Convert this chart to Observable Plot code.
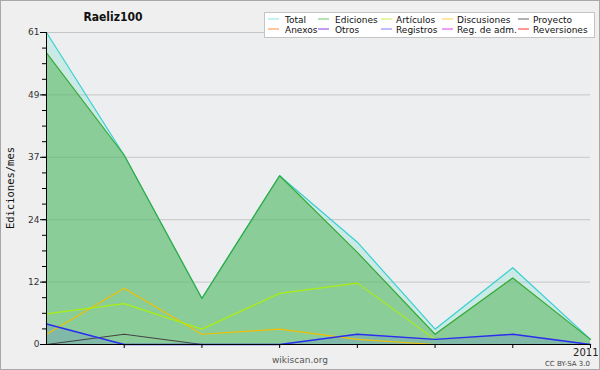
<!DOCTYPE html>
<html>
<head>
<meta charset="utf-8">
<script src="https://cdn.jsdelivr.net/npm/d3@7"></script>
<script src="https://cdn.jsdelivr.net/npm/@observablehq/plot@0.6"></script>
<style>
  html, body { margin: 0; padding: 0; background: #efefef; }
  svg { display: block; }
</style>
</head>
<body>
<div id="chart"></div>
<script>
// ---- data ----
const months = ["2010-06", "2010-07", "2010-08", "2010-09", "2010-10", "2010-11", "2010-12", "2011-01"];
const total = [61, 37, 9, 33, 20, 3, 15, 1];
const ediciones = [57, 37, 9, 33, 18, 2, 13, 1];
const articulos = [6, 8, 3, 10, 12, 1, null, null];
const discusiones = [2, 11, 2, 3, 1, 0, null, null];
const registros = [4, 0, 0, 0, 2, 1, 2, 0];
const proyecto = [0, 2, 0, 0, 0, 0, 0, 0];

const yTicks = [0, 12.2, 24.4, 36.6, 48.8, 61];
const yTickLabels = ["0", "12", "24", "37", "49", "61"];
const xTickLabels = ["", "", "", "", "", "", "", "2011"];

const legendLabels = [
  ["Total", "Ediciones", "Artículos", "Discusiones", "Proyecto"],
  ["Anexos", "Otros", "Registros", "Reg. de adm.", "Reversiones"]
];
const legendColors = [
  ["#8fe3e3", "#6cc46c", "#c6f04a", "#ffd23c", "#666666"],
  ["#ff8a3c", "#8a3ce8", "#7a7aff", "#e23cf0", "#ff3434"]
];

const title = "Raeliz100";
const yLabel = "Ediciones/mes";
const source = "wikiscan.org";
const license = "CC BY-SA 3.0";

// ---- table for the library ----
const rows = months.map((m, i) => ({
  i, month: m,
  total: total[i], ediciones: ediciones[i], articulos: articulos[i],
  discusiones: discusiones[i], registros: registros[i], proyecto: proyecto[i]
}));
const minorTicks = d3.range(0, 61.001, 61 / 20);

const chart = Plot.plot({
  width: 600,
  height: 370,
  marginLeft: 46,
  marginRight: 10,
  marginTop: 32,
  marginBottom: 26,
  style: { background: "#efefef", fontFamily: "'DejaVu Sans', sans-serif", fontSize: "9px", color: "#333", overflow: "visible" },
  x: { type: "linear", domain: [0, 7], axis: null, label: null },
  y: { domain: [0, 61], axis: null, label: null },
  marks: [
    Plot.frame({ fill: "#edeef0", stroke: null }),
    Plot.ruleY(yTicks.slice(1), { stroke: "#c6c6c6" }),
    Plot.areaY(rows, { x: "i", y: "total", fill: "#5fdcc8", fillOpacity: 0.24 }),
    Plot.areaY(rows, { x: "i", y: "ediciones", fill: "#4cb04c", fillOpacity: 0.5 }),
    Plot.areaY(rows, { x: "i", y: "registros", fill: "#5050ff", fillOpacity: 0.16 }),
    Plot.lineY(rows, { x: "i", y: "total", stroke: "#38d0d0", strokeWidth: 1.2 }),
    Plot.lineY(rows, { x: "i", y: "ediciones", stroke: "#36aa36", strokeWidth: 1.2 }),
    Plot.lineY(rows, { x: "i", y: "proyecto", stroke: "#444444", strokeWidth: 1.2 }),
    Plot.lineY(rows, { x: "i", y: "discusiones", stroke: "#f0c000", strokeWidth: 1.2 }),
    Plot.lineY(rows, { x: "i", y: "articulos", stroke: "#aaee10", strokeWidth: 1.2 }),
    Plot.lineY(rows, { x: "i", y: "registros", stroke: "#2c2cf0", strokeWidth: 1.4 }),
    Plot.axisY({ ticks: minorTicks, tickSize: 4, tickFormat: () => "", stroke: "#000", label: null }),
    Plot.axisY({ ticks: yTicks, tickSize: 6, tickPadding: 1, tickFormat: (d, k) => yTickLabels[k], fill: "#333", fontSize: 9, stroke: "#000", label: null }),
    Plot.axisX({ ticks: d3.range(1, 8), tickSize: 4, tickFormat: () => "", stroke: "#000", label: null }),
    Plot.text(rows.filter((d) => xTickLabels[d.i] !== ""), {
      x: "i", y: 0, text: (d) => xTickLabels[d.i], textAnchor: "end", dx: 8, dy: 8,
      fontSize: 10, fill: "#222"
    }),
    Plot.ruleX([0], { stroke: "#000" }),
    Plot.ruleY([0], { stroke: "#000" })
  ]
});

document.getElementById("chart").appendChild(chart);

// ---- decorations: title, legend, labels, border ----
const svg = d3.select(chart);
const ns = "'DejaVu Sans', sans-serif";

svg.append("text")
  .attr("x", 113).attr("y", 21)
  .attr("text-anchor", "middle")
  .attr("font-family", "'DejaVu Sans Condensed', 'DejaVu Sans', sans-serif")
  .attr("font-stretch", "condensed")
  .attr("font-weight", "bold").attr("font-size", 12).attr("fill", "#111")
  .text(title);

svg.append("text")
  .attr("transform", "translate(14,188) rotate(-90)")
  .attr("text-anchor", "middle")
  .attr("font-family", "'DejaVu Sans Mono', monospace")
  .attr("font-size", 10.5).attr("fill", "#111")
  .text(yLabel);

svg.append("text")
  .attr("x", 300).attr("y", 363)
  .attr("text-anchor", "middle")
  .attr("font-family", ns).attr("font-size", 9).attr("fill", "#555")
  .text(source);

svg.append("text")
  .attr("x", 590).attr("y", 366)
  .attr("text-anchor", "end")
  .attr("font-family", ns).attr("font-size", 7).attr("fill", "#444")
  .text(license);

// legend
const lg = svg.append("g");
lg.append("rect")
  .attr("x", 264.5).attr("y", 12.5).attr("width", 330).attr("height", 25)
  .attr("fill", "#fff").attr("stroke", "#c4c4c4");
const swatchX = [268, 318, 381, 442, 518];
const textX = [285, 335, 396, 457, 533];
legendLabels.forEach((row, r) => {
  row.forEach((lab, c) => {
    const yBase = 22.5 + r * 10;
    lg.append("line")
      .attr("x1", swatchX[c]).attr("x2", swatchX[c] + 11)
      .attr("y1", yBase - 3.5).attr("y2", yBase - 3.5)
      .attr("stroke", legendColors[r][c]).attr("stroke-width", 1);
    lg.append("text")
      .attr("x", textX[c]).attr("y", yBase)
      .attr("text-anchor", "start")
      .attr("font-family", ns).attr("font-size", 9).attr("fill", "#111")
      .text(lab);
  });
});

svg.append("rect")
  .attr("x", 0.5).attr("y", 0.5).attr("width", 599).attr("height", 369)
  .attr("fill", "none").attr("stroke", "#a8a8a8");
</script>
</body>
</html>
